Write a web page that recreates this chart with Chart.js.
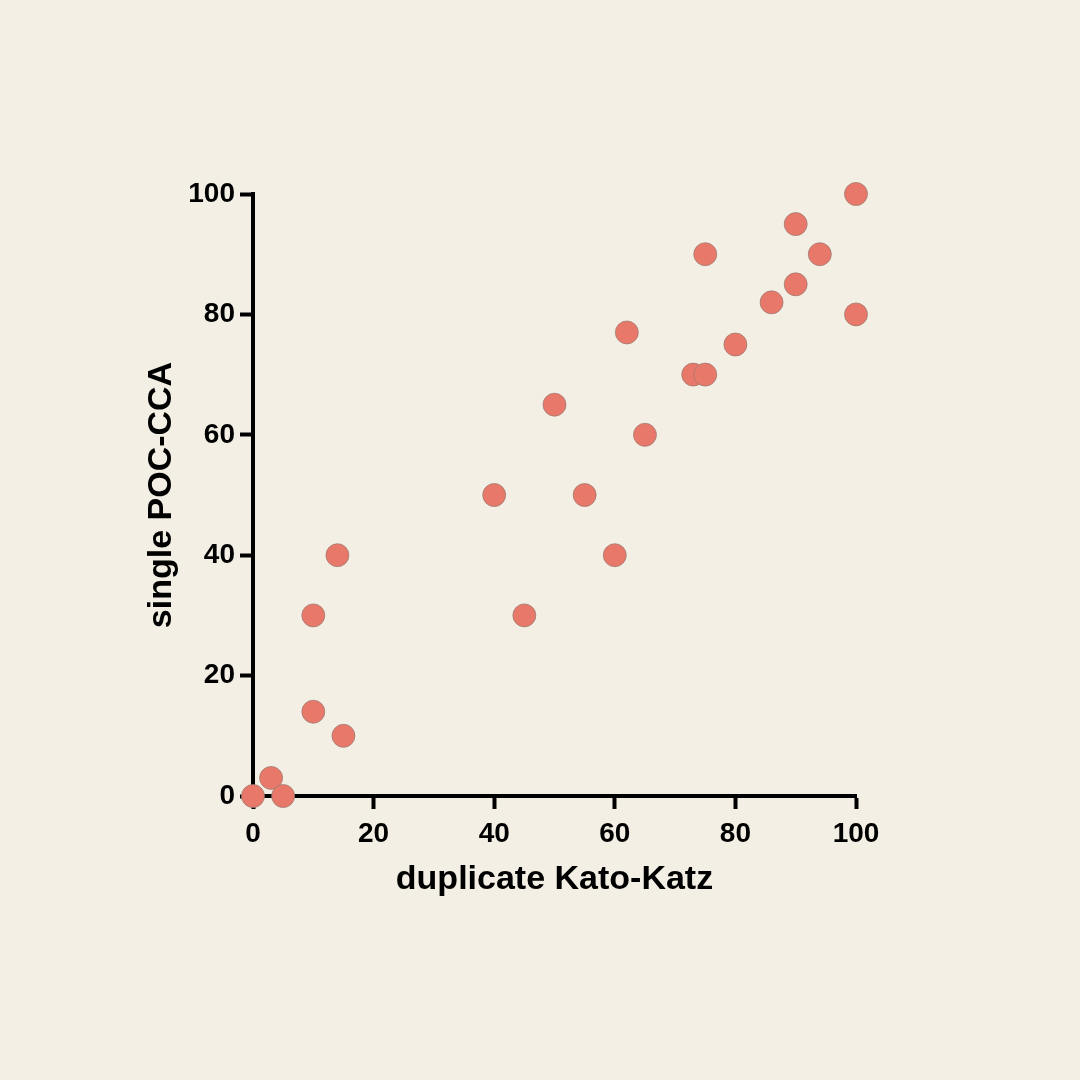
<!DOCTYPE html>
<html>
<head>
<meta charset="utf-8">
<script src="https://cdn.jsdelivr.net/npm/chart.js@4/dist/chart.umd.min.js"></script>
<style>
  html, body { margin: 0; padding: 0; background: #f3efe5; }
  #wrap { width: 1080px; height: 1080px; }
</style>
</head>
<body>
<div id="wrap"><canvas id="chart" width="1080" height="1080"></canvas></div>
<script>
// duplicate Kato-Katz (x) vs single POC-CCA (y)
const katoKatz = [0, 3, 5, 10, 10, 14, 15, 40, 45, 50, 55, 60, 62, 65, 73, 75, 75, 80, 86, 90, 90, 94, 100, 100];
const pocCca   = [0, 3, 0, 30, 14, 40, 10, 50, 30, 65, 50, 40, 77, 60, 70, 70, 90, 75, 82, 95, 85, 90, 100, 80];
const tickValues = [0, 20, 40, 60, 80, 100];

const points = katoKatz.map((x, i) => ({ x: x, y: pocCca[i] }));

const tickFont = { family: 'Liberation Sans, Arial, sans-serif', size: 28, weight: 'bold' };
const titleFont = { family: 'Liberation Sans, Arial, sans-serif', size: 34, weight: 'bold' };

const axisCommon = {
  type: 'linear',
  min: 0,
  max: 100,
  border: { display: true, color: '#000', width: 4 },
  grid: {
    drawOnChartArea: false,
    drawTicks: true,
    tickLength: 13,
    tickWidth: 4,
    tickColor: '#000',
    color: '#000'
  },
  afterBuildTicks: scale => {
    scale.ticks = tickValues.map(v => ({ value: v }));
  }
};

new Chart(document.getElementById('chart').getContext('2d'), {
  type: 'scatter',
  data: {
    datasets: [{
      data: points,
      backgroundColor: '#e8796a',
      borderColor: 'rgba(150, 120, 110, 0.7)',
      borderWidth: 1,
      pointRadius: 11.5,
      pointHoverRadius: 11.5,
      clip: false
    }]
  },
  options: {
    responsive: false,
    animation: false,
    layout: { padding: { top: 194, right: 224, bottom: 0, left: 0 } },
    plugins: {
      legend: { display: false },
      tooltip: { enabled: false }
    },
    scales: {
      x: {
        ...axisCommon,
        position: 'bottom',
        ticks: { color: '#000', font: tickFont, padding: 8, maxRotation: 0 },
        title: {
          display: true,
          text: 'duplicate Kato-Katz',
          color: '#000',
          font: titleFont,
          padding: { top: 0, bottom: 180 }
        },
        afterFit: scale => { scale.height = 284; }
      },
      y: {
        ...axisCommon,
        position: 'left',
        ticks: { color: '#000', font: tickFont, padding: 5 },
        title: {
          display: true,
          text: 'single POC-CCA',
          color: '#000',
          font: titleFont,
          padding: { top: 141, bottom: 0 }
        },
        afterFit: scale => { scale.width = 253; }
      }
    }
  }
});
</script>
</body>
</html>
